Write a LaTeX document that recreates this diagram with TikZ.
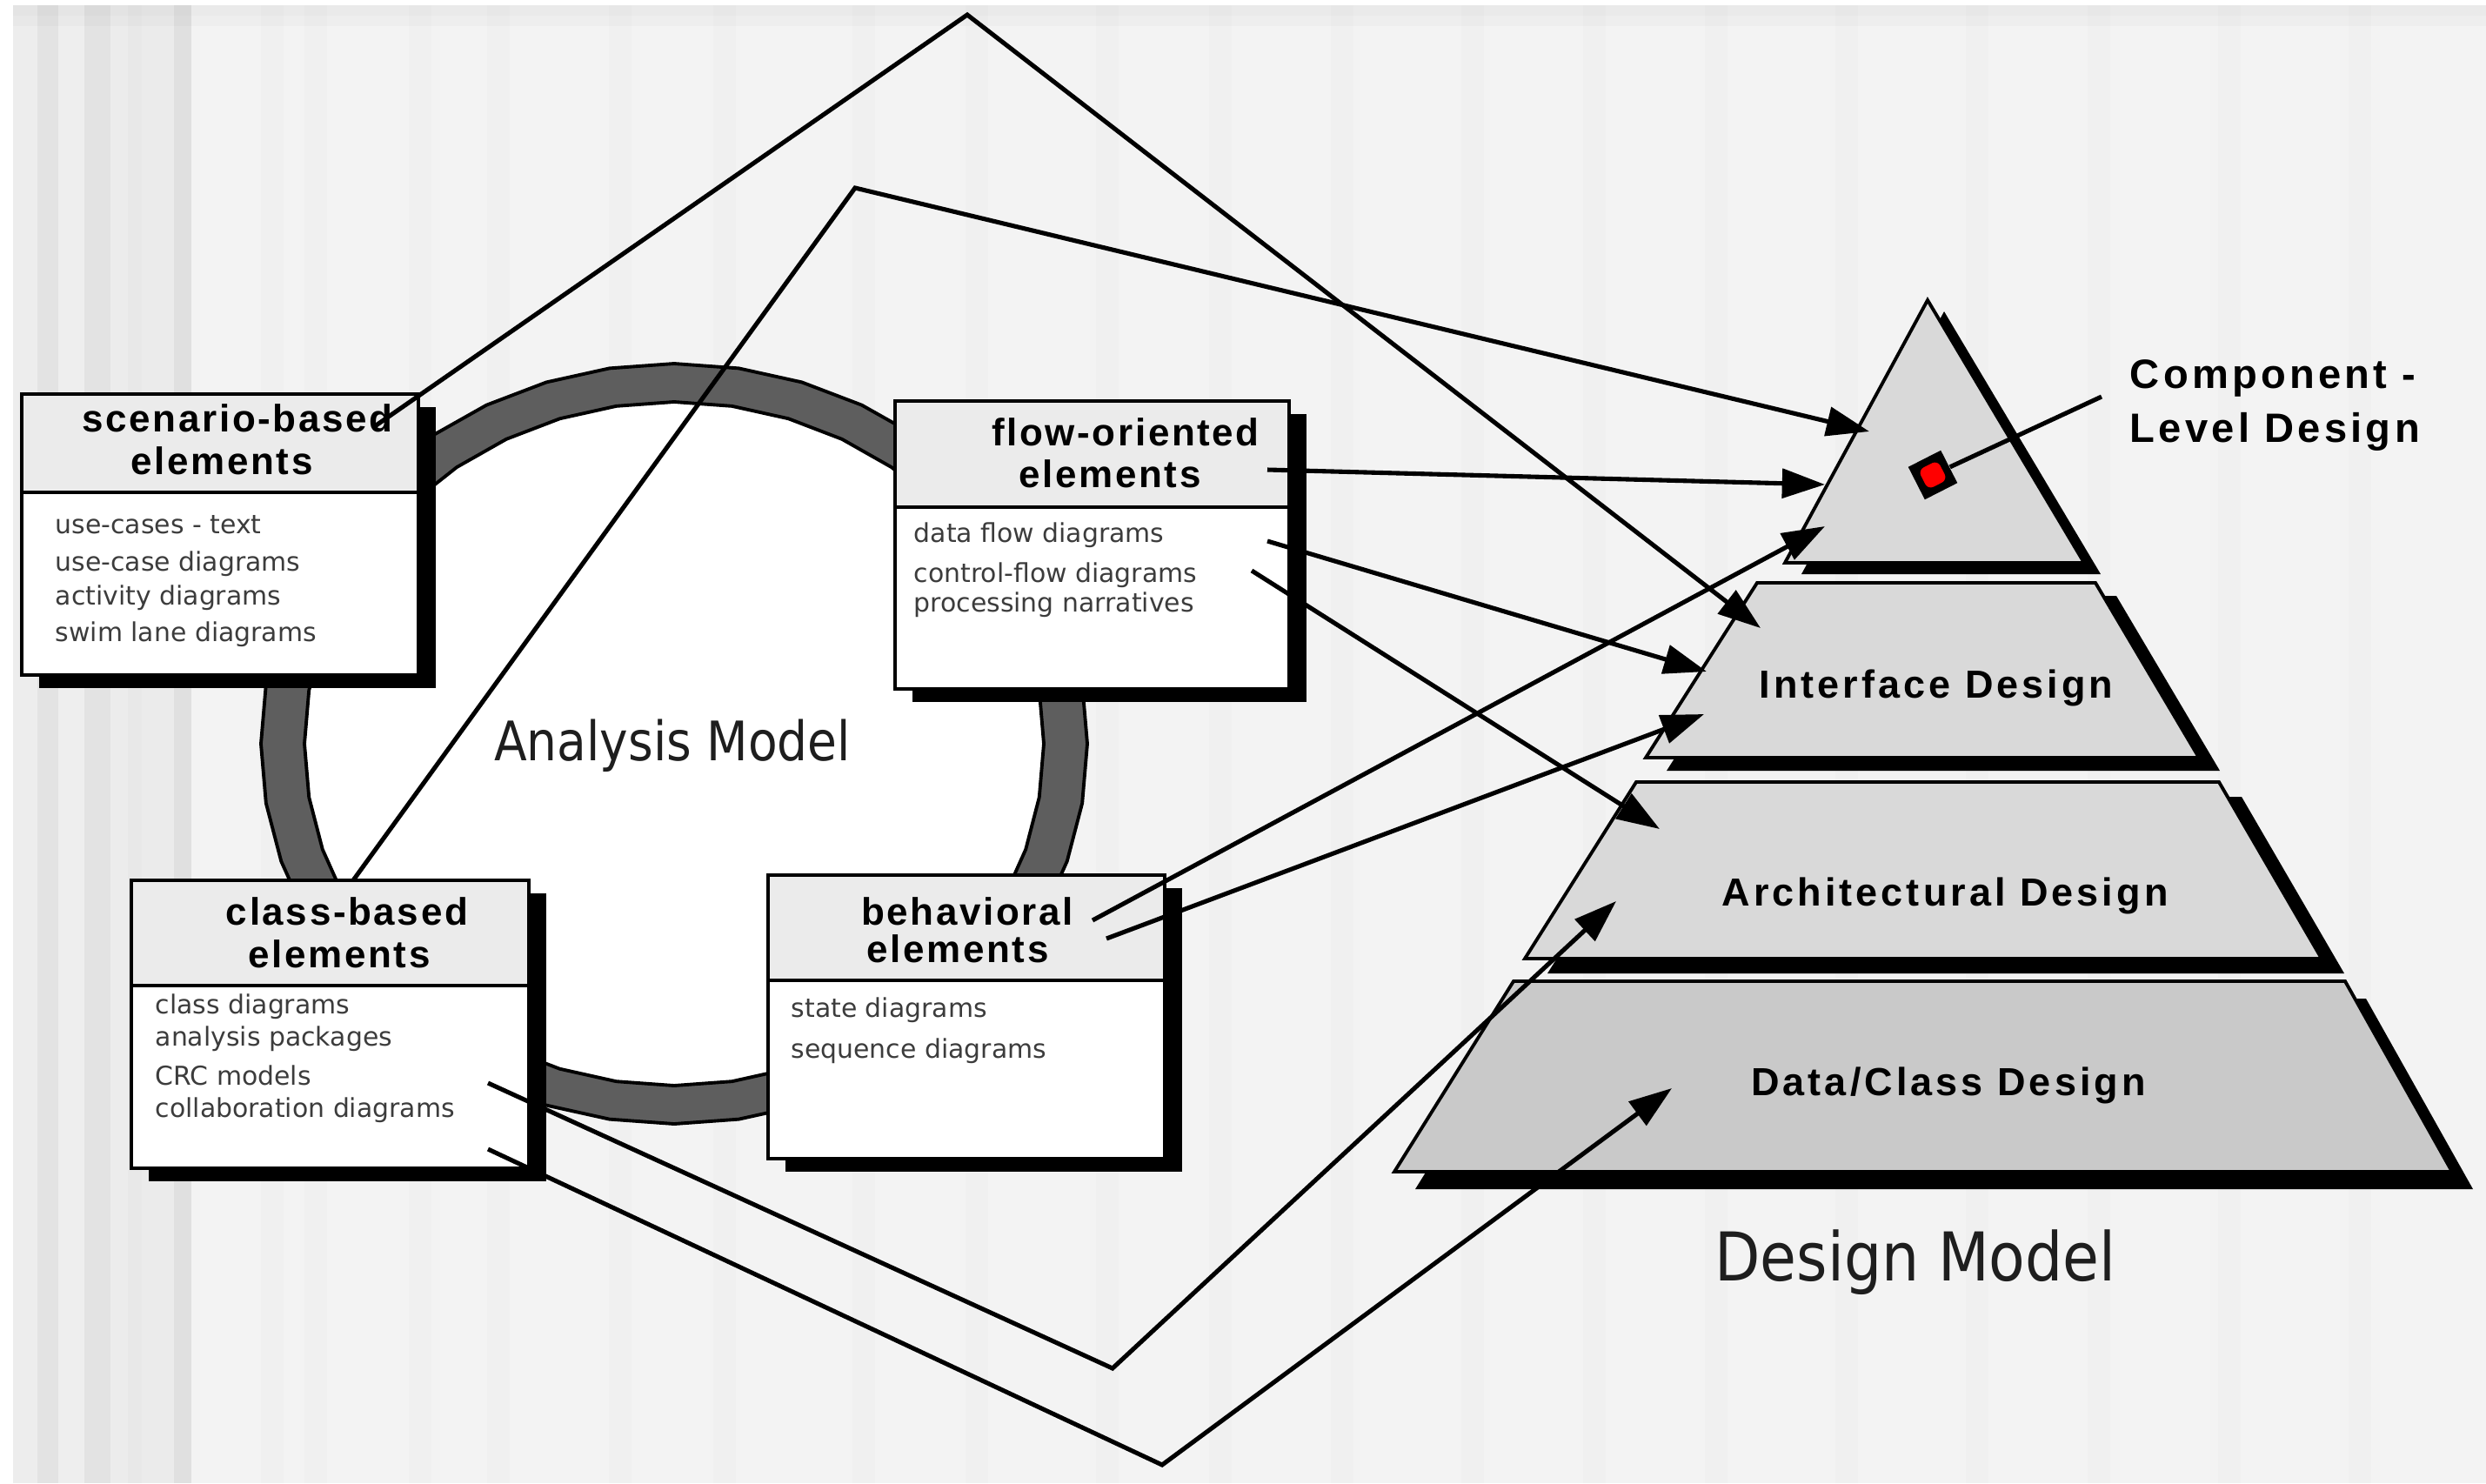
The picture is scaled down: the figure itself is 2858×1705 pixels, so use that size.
\documentclass[tikz,border=0pt]{standalone}
\usepackage{fontspec}
\setmainfont{DejaVu Sans}
\newfontfamily\headfont[LetterSpace=6]{Liberation Sans}
\newfontfamily\layerfont[LetterSpace=9]{Liberation Sans}
\newfontfamily\modelfont[FakeStretch=0.88]{DejaVu Sans}
\usetikzlibrary{arrows.meta,shadows}

\definecolor{bodygray}{HTML}{3C3C3C}
\definecolor{modelink}{HTML}{1E1E1E}

\begin{document}
\begin{tikzpicture}[x=0.01cm, y=-0.01cm,
  conn/.style={line width=1.45pt, line join=miter, line cap=butt},
  arr/.style={conn, -{Triangle[length=14pt,width=9.5pt]}},
  elbox/.style={rectangle, draw=black, line width=1.15pt, fill=white, inner sep=0pt,
    drop shadow={shadow xshift=5.7pt, shadow yshift=-4.3pt, fill=black, opacity=1}},
  headbar/.style={rectangle, draw=black, line width=1.15pt, fill=black!8, inner sep=0pt},
  headtext/.style={font=\headfont\bfseries\fontsize{12.5pt}{14pt}\selectfont, anchor=base, inner sep=0pt},
  bodytext/.style={font=\fontsize{8.5pt}{10pt}\selectfont, text=bodygray, anchor=base west, inner sep=0pt},
  layertext/.style={font=\layerfont\bfseries\fontsize{12.8pt}{15pt}\selectfont, anchor=base, inner sep=0pt},
  modeltext/.style={font=\modelfont\fontsize{17.8pt}{20pt}\selectfont, text=modelink, anchor=base, inner sep=0pt},
  layer/.style={draw=black, line width=1.1pt, line join=miter},
  layershadow/.style={fill=black}
]
\useasboundingbox (0,0) rectangle (2858,1705);

% ---------- paper background with vertical stripes ----------
\fill[white] (0,0) rectangle (2858,1705);
\fill[black!4.7] (15,6) rectangle (2858,1705);
\foreach \a/\b/\c in {15/43/7, 43/67/11, 67/97/6.5, 97/127/11, 127/147/7.5,
                      147/163/9, 163/200/8, 200/220/12}
  \fill[black!\c] (\a,6) rectangle (\b,1705);
\foreach \a in {300,350,470,560,700,820,980,1110,1260,1390,1530,1680,1820,1960,2110,2260,2400,2550,2700}
  \fill[black!6] (\a,6) rectangle ++(26,1699);
\fill[black, opacity=0.035] (15,6) rectangle (2858,18);
\fill[black, opacity=0.02] (15,18) rectangle (2858,30);

% ---------- analysis model ring (faceted) ----------
\filldraw[fill=black!63, draw=black, line width=1.1pt, line join=round]
  plot[samples=41, domain=0:360] ({775+475*cos(\x)},{855+437*sin(\x)}) -- cycle;
\filldraw[fill=white, draw=black, line width=1.1pt, line join=round]
  plot[samples=41, domain=0:360] ({775+425*cos(\x)},{855+393*sin(\x)}) -- cycle;
\node[modeltext] (anamodel) at (773,874) {Analysis Model};

% ---------- element boxes ----------
% scenario-based
\node[elbox, minimum width=4.56cm, minimum height=3.23cm] (scen) at (253,614.5) {};
\node[headbar, minimum width=4.56cm, minimum height=1.13cm] (scenH) at (253,509.5) {};
\node[headtext] (scenT1) at (273,496) {scenario-based};
\node[headtext] (scenT2) at (255,545) {elements};
\node[bodytext] (scenL1) at (63,613) {use-cases - text};
\node[bodytext] (scenL2) at (63,656) {use-case diagrams};
\node[bodytext] (scenL3) at (63,695) {activity diagrams};
\node[bodytext] (scenL4) at (63,737) {swim lane diagrams};

% flow-oriented
\node[elbox, minimum width=4.53cm, minimum height=3.31cm] (flow) at (1255.5,626.5) {};
\node[headbar, minimum width=4.53cm, minimum height=1.22cm] (flowH) at (1255.5,522) {};
\node[headtext] (flowT1) at (1294,512) {flow-oriented};
\node[headtext] (flowT2) at (1276,560) {elements};
\node[bodytext] (flowL1) at (1050,623) {data flow diagrams};
\node[bodytext] (flowL2) at (1050,669) {control-flow diagrams};
\node[bodytext] (flowL3) at (1050,703) {processing narratives};

% class-based
\node[elbox, minimum width=4.57cm, minimum height=3.31cm] (cls) at (379.5,1177.5) {};
\node[headbar, minimum width=4.57cm, minimum height=1.21cm] (clsH) at (379.5,1072.5) {};
\node[headtext] (clsT1) at (399,1063) {class-based};
\node[headtext] (clsT2) at (390,1112) {elements};
\node[bodytext] (clsL1) at (178,1165) {class diagrams};
\node[bodytext] (clsL2) at (178,1202) {analysis packages};
\node[bodytext] (clsL3) at (178,1247) {CRC models};
\node[bodytext] (clsL4) at (178,1284) {collaboration diagrams};

% behavioral
\node[elbox, minimum width=4.56cm, minimum height=3.26cm] (beh) at (1111,1169) {};
\node[headbar, minimum width=4.56cm, minimum height=1.21cm] (behH) at (1111,1066.5) {};
\node[headtext] (behT1) at (1112,1063) {behavioral};
\node[headtext] (behT2) at (1101,1106) {elements};
\node[bodytext] (behL1) at (909,1169) {state diagrams};
\node[bodytext] (behL2) at (909,1216) {sequence diagrams};

% ---------- design model pyramid ----------
% data/class layer
\fill[layershadow, shift={(24,20)}] (1740,1128) -- (2696,1128) -- (2819,1347) -- (1603,1347) -- cycle;
\filldraw[layer, fill=black!21] (1740,1128) -- (2696,1128) -- (2819,1347) -- (1603,1347) -- cycle;
% architectural layer
\fill[layershadow, shift={(26,17)}] (1881,899) -- (2551,899) -- (2669,1102) -- (1753,1102) -- cycle;
\filldraw[layer, fill=black!15] (1881,899) -- (2551,899) -- (2669,1102) -- (1753,1102) -- cycle;
% interface layer
\fill[layershadow, shift={(24,15)}] (2020,670) -- (2409,670) -- (2528,871) -- (1892,871) -- cycle;
\filldraw[layer, fill=black!15] (2020,670) -- (2409,670) -- (2528,871) -- (1892,871) -- cycle;
% component-level layer
\fill[layershadow, shift={(19,13)}] (2216,345) -- (2396,647) -- (2052,647) -- cycle;
\filldraw[layer, fill=black!15] (2216,345) -- (2396,647) -- (2052,647) -- cycle;

\node[layertext] (ifdesign) at (2226,802) {Interface Design};
\node[layertext] (archdesign) at (2236,1041) {Architectural Design};
\node[layertext] (datadesign) at (2240,1259) {Data/Class Design};
\node[layertext, anchor=base west, font=\layerfont\bfseries\fontsize{13.4pt}{15pt}\selectfont] (cmp1) at (2448,446) {Component -};
\node[layertext, anchor=base west, font=\layerfont\bfseries\fontsize{13.4pt}{15pt}\selectfont] (cmp2) at (2448,508) {Level Design};
\node[modeltext, font=\modelfont\fontsize{22pt}{24pt}\selectfont] (desmodel) at (2202,1472) {Design Model};

% component marker and its leader
\node[rectangle, fill=black, minimum size=0.42cm, inner sep=0pt, rotate=27] (marker) at (2222,546) {};
\node[rectangle, fill=red, rounded corners=2pt, minimum size=0.25cm, inner sep=0pt, rotate=27] (markerdot) at (2222,546) {};
\coordinate (cmplead) at (2416,456);
\draw[conn] (marker) -- (cmplead);

% ---------- connectors ----------
\coordinate (scenOut) at (428,492);
\coordinate (topBend) at (1112,17);
\coordinate (ifTipA)  at (2024,722);
\draw[arr] (scenOut) -- (topBend) -- (ifTipA);

\coordinate (clsTop)  at (406,1012);
\coordinate (midBend) at (983,216);
\coordinate (cmpTipA) at (2149,496);
\draw[arr] (clsTop) -- (midBend) -- (cmpTipA);

\coordinate (flowHead) at (1457,540);
\coordinate (cmpTipB)  at (2098,557);
\draw[arr] (flowHead) -- (cmpTipB);

\coordinate (flowDfd) at (1457,622);
\coordinate (ifTipB)  at (1962,772);
\draw[arr] (flowDfd) -- (ifTipB);

\coordinate (flowCfd)  at (1439,656);
\coordinate (archTipA) at (1908,953);
\draw[arr] (flowCfd) -- (archTipA);

\coordinate (behOutA) at (1256,1058);
\coordinate (cmpTipC) at (2098,605);
\draw[arr] (behOutA) -- (cmpTipC);

\coordinate (behOutB) at (1272,1079);
\coordinate (ifTipC)  at (1959,821);
\draw[arr] (behOutB) -- (ifTipC);

\coordinate (clsOutA)  at (561,1245);
\coordinate (lowBendA) at (1279,1573);
\coordinate (archTipB) at (1858,1036);
\draw[arr] (clsOutA) -- (lowBendA) -- (archTipB);

\coordinate (clsOutB)  at (561,1321);
\coordinate (lowBendB) at (1336,1684);
\coordinate (dataTip)  at (1922,1251);
\draw[arr] (clsOutB) -- (lowBendB) -- (dataTip);
\end{tikzpicture}
\end{document}
